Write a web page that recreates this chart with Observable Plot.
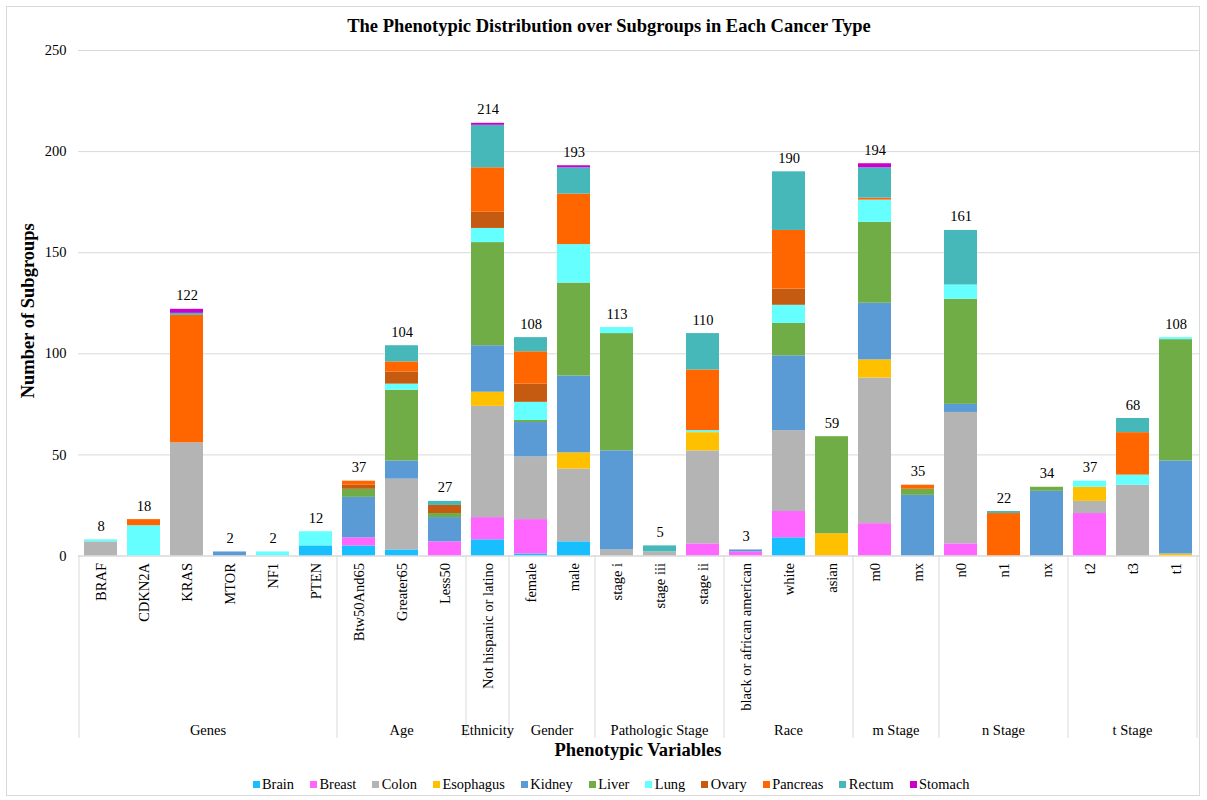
<!DOCTYPE html>
<html>
<head>
<meta charset="utf-8">
<script src="https://cdn.jsdelivr.net/npm/d3@7"></script>
<script src="https://cdn.jsdelivr.net/npm/@observablehq/plot@0.6"></script>
<style>
  body { margin: 0; background: #fff; font-family: "Liberation Serif", "Times New Roman", serif; }
  #wrap { position: relative; width: 1207px; height: 800px; overflow: hidden; }
  #frame { position: absolute; left: 6px; top: 6px; width: 1194px; height: 790px; border: 1px solid #d9d9d9; box-sizing: border-box; }
  #title { position: absolute; left: 0; top: 15px; width: 1218px; text-align: center; font-weight: bold; font-size: 18.5px; color: #000; line-height: 22px; }
  #chart { position: absolute; left: 0; top: 0; }
  #chart svg text { font-family: "Liberation Serif", "Times New Roman", serif; }
  #legend { position: absolute; left: 0; top: 776px; width: 1238px; }
  .lg-swatches-wrap { justify-content: center !important; min-height: 0 !important; margin: 0 !important; }
  .lg-swatches, .lg-swatch { margin: 0 !important; font-family: "Liberation Serif", "Times New Roman", serif !important; font-size: 14.4px !important; color: #000 !important; }
  .lg-swatch { margin-right: 16px !important; }
  .lg-swatch > svg { margin-right: 2.5px !important; }
</style>
</head>
<body>
<div id="wrap">
  <div id="frame"></div>
  <div id="title">The Phenotypic Distribution over Subgroups in Each Cancer Type</div>
  <div id="chart"></div>
  <div id="legend"></div>
</div>
<script>
// ---------- data ----------
const categories = ["BRAF", "CDKN2A", "KRAS", "MTOR", "NF1", "PTEN",
  "Btw50And65", "Greater65", "Less50",
  "Not hispanic or latino",
  "female", "male",
  "stage i", "stage iii", "stage ii",
  "black or african american", "white", "asian",
  "m0", "mx",
  "n0", "n1", "nx",
  "t2", "t3", "t1"];

const groupNames = ["Genes", "Age", "Ethnicity", "Gender", "Pathologic Stage", "Race", "m Stage", "n Stage", "t Stage"];
const groupSizes = [6, 3, 1, 2, 3, 3, 2, 3, 3];

const cancers = ["Brain", "Breast", "Colon", "Esophagus", "Kidney", "Liver", "Lung", "Ovary", "Pancreas", "Rectum", "Stomach"];
const cancerColors = ["#17bfff", "#ff66ff", "#b4b4b4", "#ffc000", "#5b9bd5", "#70ad47", "#66ffff", "#c55a11", "#ff6600", "#47b8ba", "#cc00cc"];

//                 BRAF CDK KRAS MTOR NF1 PTEN  Btw Gr65 L50  NotH  fem male  si siii sii  blk wht asn  m0 mx  n0 n1 nx  t2 t3 t1
const brain     = [0, 0, 0, 0, 0, 5,   5, 3, 0,   8,   1, 7,    0, 0, 0,    0, 9, 0,    0, 0,   0, 0, 0,   0, 0, 0];
const breast    = [0, 0, 0, 0, 0, 0,   4, 0, 7,   11,  17, 0,   0, 0, 6,    2, 13, 0,   16, 0,  6, 0, 0,   21, 0, 0];
const colon     = [7, 0, 56, 0, 0, 0,  0, 35, 0,  55,  31, 36,  3, 2, 46,   0, 40, 0,   72, 0,  65, 0, 0,  6, 35, 0];
const esophagus = [0, 0, 0, 0, 0, 0,   0, 0, 0,   7,   0, 8,    0, 0, 9,    0, 0, 11,   9, 0,   0, 0, 0,   7, 0, 1];
const kidney    = [0, 0, 0, 2, 0, 0,   20, 9, 12, 23,  17, 38,  49, 0, 0,   1, 37, 0,   28, 30, 4, 0, 32,  0, 0, 46];
const liver     = [0, 0, 0, 0, 0, 0,   4, 35, 2,  51,  1, 46,   58, 0, 0,   0, 16, 48,  40, 3,  52, 0, 2,  0, 0, 60];
const lung      = [1, 15, 0, 0, 2, 7,  0, 3, 0,   7,   9, 19,   3, 0, 1,    0, 9, 0,    11, 0,  7, 0, 0,   3, 5, 1];
const ovary     = [0, 0, 0, 0, 0, 0,   2, 6, 4,   8,   9, 0,    0, 0, 0,    0, 8, 0,    0, 0,   0, 0, 0,   0, 0, 0];
const pancreas  = [0, 3, 63, 0, 0, 0,  2, 5, 0,   22,  16, 25,  0, 0, 30,   0, 29, 0,   1, 2,   0, 21, 0,  0, 21, 0];
const rectum    = [0, 0, 1, 0, 0, 0,   0, 8, 2,   21,  7, 13,   0, 3, 18,   0, 29, 0,   15, 0,  27, 1, 0,  0, 7, 0];
const stomach   = [0, 0, 2, 0, 0, 0,   0, 0, 0,   1,   0, 1,    0, 0, 0,    0, 0, 0,    2, 0,   0, 0, 0,   0, 0, 0];

const totals = [8, 18, 122, 2, 2, 12, 37, 104, 27, 214, 108, 193, 113, 5, 110, 3, 190, 59, 194, 35, 161, 22, 34, 37, 68, 108];
const yTicks = [0, 50, 100, 150, 200, 250];

// ---------- tables built from the arrays ----------
const seriesValues = [brain, breast, colon, esophagus, kidney, liver, lung, ovary, pancreas, rectum, stomach];
const rows = [];
categories.forEach((c, i) => {
  cancers.forEach((k, j) => {
    rows.push({category: c, cancer: k, value: seriesValues[j][i]});
  });
});
const totalRows = categories.map((c, i) => ({category: c, total: totals[i]}));

const serif = "Liberation Serif, Times New Roman, serif";

const plot = Plot.plot({
  width: 1207,
  height: 800,
  marginLeft: 78,
  marginRight: 8,
  marginTop: 50,
  marginBottom: 244.5,
  style: {fontFamily: serif, fontSize: "14.5px", color: "#000", background: "none", overflow: "visible"},
  x: {domain: categories, paddingInner: 0.23, paddingOuter: 0.115, label: null},
  y: {domain: [0, 250], label: null},
  color: {domain: cancers, range: cancerColors},
  marks: [
    Plot.gridY(yTicks, {stroke: "#d9d9d9", strokeOpacity: 1, strokeWidth: 1}),
    Plot.barY(rows, {x: "category", y: "value", fill: "cancer", order: cancers}),
    Plot.ruleY([0], {stroke: "#d9d9d9", strokeWidth: 1}),
    Plot.text(totalRows, {x: "category", y: "total", text: d => String(d.total), dy: -9, lineAnchor: "bottom", fill: "#000", fontFamily: serif}),
    Plot.axisY({ticks: yTicks, tickSize: 0, tickPadding: 12, label: null, fill: "#000", fontFamily: serif}),
    Plot.axisX({tickRotate: -90, tickSize: 0, tickPadding: 7, label: null, fill: "#000", fontFamily: serif})
  ]
});

document.getElementById("chart").appendChild(plot);

// ---------- group separators and labels below the axis (through the plot's scales) ----------
const xs = plot.scale("x");
const ys = plot.scale("y");
const step = xs.apply(categories[1]) - xs.apply(categories[0]);
const bw = xs.bandwidth;
const gap = (step - bw) / 2;
const leftEdge = i => i < categories.length ? xs.apply(categories[i]) - gap : xs.apply(categories[categories.length - 1]) + bw + gap;
const y0 = ys.apply(0);
const svg = d3.select(plot);
const sepBottom = 738;
const g = svg.append("g");
let start = 0;
const bounds = [0];
groupSizes.forEach(n => { start += n; bounds.push(start); });
bounds.forEach(b => {
  const x = leftEdge(b);
  g.append("line").attr("x1", x).attr("x2", x).attr("y1", y0).attr("y2", sepBottom)
    .attr("stroke", "#d9d9d9").attr("stroke-width", 1);
});
groupNames.forEach((name, k) => {
  const a = leftEdge(bounds[k]), b = leftEdge(bounds[k + 1]);
  g.append("text").attr("x", (a + b) / 2).attr("y", 730).attr("dy", "0.32em")
    .attr("text-anchor", "middle").attr("font-size", "14.5px").attr("fill", "#000").text(name);
});

// axis titles
const xMid = (leftEdge(0) + leftEdge(categories.length)) / 2;
svg.append("text").attr("x", xMid).attr("y", 750).attr("dy", "0.32em")
  .attr("text-anchor", "middle").attr("font-weight", "bold").attr("font-size", "18.5px").attr("fill", "#000")
  .text("Phenotypic Variables");
const yMid = (ys.apply(0) + ys.apply(250)) / 2 + 8;
svg.append("text").attr("transform", `translate(28,${yMid}) rotate(-90)`).attr("dy", "0.32em")
  .attr("text-anchor", "middle").attr("font-weight", "bold").attr("font-size", "18.5px").attr("fill", "#000")
  .text("Number of Subgroups");

// ---------- legend ----------
const legend = Plot.legend({
  color: {domain: cancers, range: cancerColors},
  legend: "swatches",
  swatchSize: 7,
  className: "lg",
  style: {fontFamily: serif, fontSize: "14.4px", color: "#000"}
});
document.getElementById("legend").appendChild(legend);
</script>
</body>
</html>
